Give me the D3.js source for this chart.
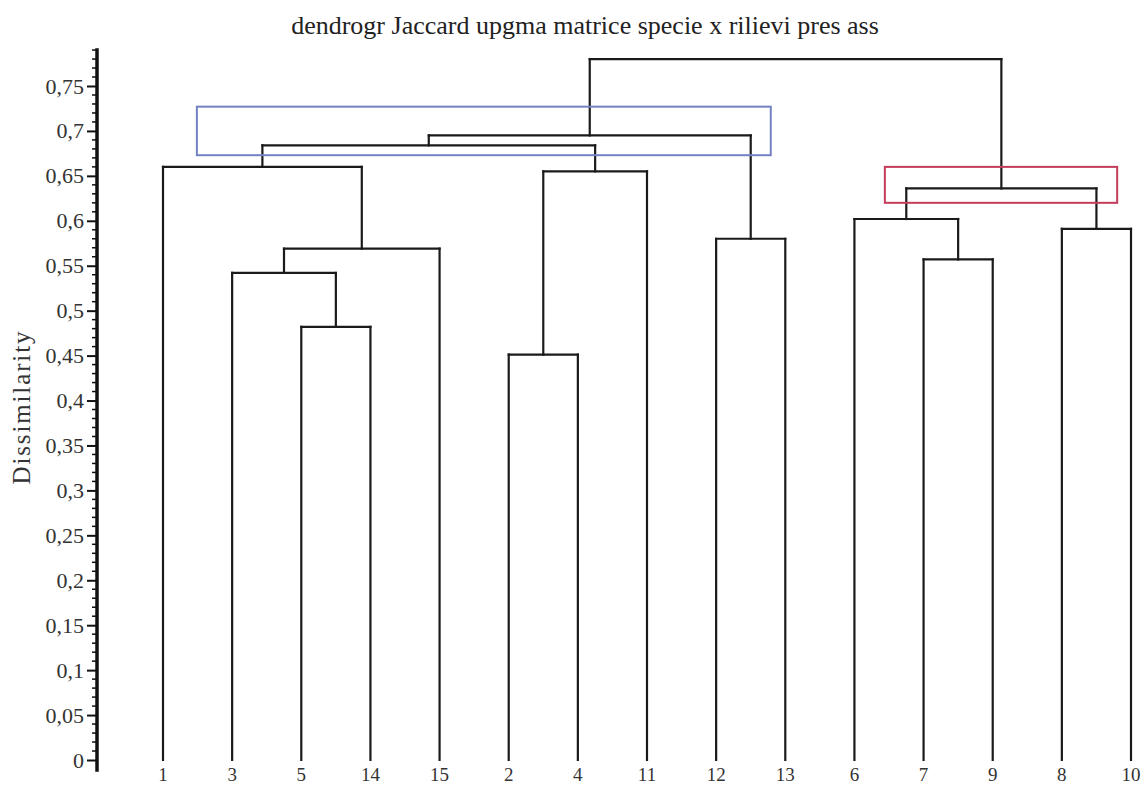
<!DOCTYPE html>
<html><head><meta charset="utf-8">
<script src="https://cdn.jsdelivr.net/npm/d3@7"></script>
<style>body{margin:0;background:#fff}svg{display:block}</style>
</head><body>
<script>
const title = "dendrogr Jaccard upgma matrice specie x rilievi pres ass";
const yLabel = "Dissimilarity";
const leaves = ["1","3","5","14","15","2","4","11","12","13","6","7","9","8","10"];
// merges: id, left child, right child, dissimilarity
const mergeIds    = ["m0","m1","m2","m3","m4","m5","m6","m7","m8","m9","m10","m11","m12","m13"];
const mergeLeft   = ["5","3","m1","1","2","m4","12","m3","m7","7","6","8","m10","m8"];
const mergeRight  = ["14","m0","15","m2","4","11","13","m5","m6","9","m9","10","m11","m12"];
const mergeHeight = [0.482,0.542,0.569,0.660,0.451,0.655,0.580,0.684,0.695,0.557,0.602,0.591,0.636,0.780];
const yTicks = [0,0.05,0.1,0.15,0.2,0.25,0.3,0.35,0.4,0.45,0.5,0.55,0.6,0.65,0.7,0.75];
// highlight boxes: leaf-index extents and dissimilarity extents
const boxX0 = [0.49, 10.44];
const boxX1 = [8.79, 13.80];
const boxY0 = [0.673, 0.620];
const boxY1 = [0.727, 0.660];
const boxColors = ["#7482c2","#c43c5c"];

const W = 1143, H = 785;
const svg = d3.select("body").append("svg").attr("width", W).attr("height", H);
const y = d3.scaleLinear().domain([0, 0.75]).range([760, 86]);
const x = d3.scalePoint().domain(leaves).range([163, 1131]);
const xi = d3.scaleLinear().domain([0, leaves.length - 1]).range([163, 1131]);
const font = "'Liberation Serif','Times New Roman',serif";

// title
svg.append("text").attr("x", 585).attr("y", 34).attr("text-anchor", "middle")
  .attr("font-family", font).attr("font-size", 26).attr("fill", "#222").text(title);

// y axis
const axisX = 97;
const g = svg.append("g").attr("transform", `translate(${axisX},0)`);
const axis = d3.axisLeft(y).tickValues(yTicks).tickSize(10).tickPadding(3)
  .tickFormat(d => d3.format("")(d).replace(".", ","));
g.call(axis);
g.select(".domain").remove();
g.selectAll(".tick line").attr("stroke", "#111").attr("stroke-width", 2);
g.selectAll(".tick text").attr("font-family", font).attr("font-size", 22).attr("fill", "#333");
const minor = d3.range(0, 80).map(i => i / 100).filter(v => !yTicks.some(t => Math.abs(t - v) < 1e-9));
g.selectAll(".minor").data(minor).join("line").attr("class", "minor")
  .attr("x1", -5).attr("x2", 0).attr("y1", d => y(d)).attr("y2", d => y(d))
  .attr("stroke", "#111").attr("stroke-width", 1.5);
g.append("line").attr("x1", 0).attr("x2", 0).attr("y1", y(-0.013)).attr("y2", y(0.792))
  .attr("stroke", "#111").attr("stroke-width", 3.5);

// y label
svg.append("text").attr("transform", `translate(30,408) rotate(-90)`)
  .attr("text-anchor", "middle").attr("font-family", font).attr("font-size", 25)
  .attr("textLength", 153).attr("lengthAdjust", "spacing")
  .attr("fill", "#333").text(yLabel);

// build tree positions
const pos = {};
leaves.forEach(l => pos[l] = {x: x(l), h: 0});
const lines = [];
mergeIds.forEach((id, i) => {
  const a = pos[mergeLeft[i]], b = pos[mergeRight[i]], h = mergeHeight[i];
  lines.push([a.x, a.h, a.x, h]);
  lines.push([b.x, b.h, b.x, h]);
  lines.push([a.x, h, b.x, h]);
  pos[id] = {x: (a.x + b.x) / 2, h: h};
});
svg.append("g").selectAll("line").data(lines).join("line")
  .attr("x1", d => d[0]).attr("y1", d => y(d[1]))
  .attr("x2", d => d[2]).attr("y2", d => y(d[3]))
  .attr("stroke", "#1a1a1a").attr("stroke-width", 2.2).attr("stroke-linecap", "square");

// highlight boxes
svg.append("g").selectAll("rect").data(boxX0.map((v, i) => i)).join("rect")
  .attr("x", i => xi(boxX0[i])).attr("y", i => y(boxY1[i]))
  .attr("width", i => xi(boxX1[i]) - xi(boxX0[i]))
  .attr("height", i => y(boxY0[i]) - y(boxY1[i]))
  .attr("fill", "none").attr("stroke", i => boxColors[i]).attr("stroke-width", 2);

// leaf labels
svg.append("g").selectAll("text").data(leaves).join("text")
  .attr("x", d => x(d)).attr("y", 781).attr("text-anchor", "middle")
  .attr("font-family", font).attr("font-size", 19).attr("fill", "#333").text(d => d);
</script>
</body></html>
